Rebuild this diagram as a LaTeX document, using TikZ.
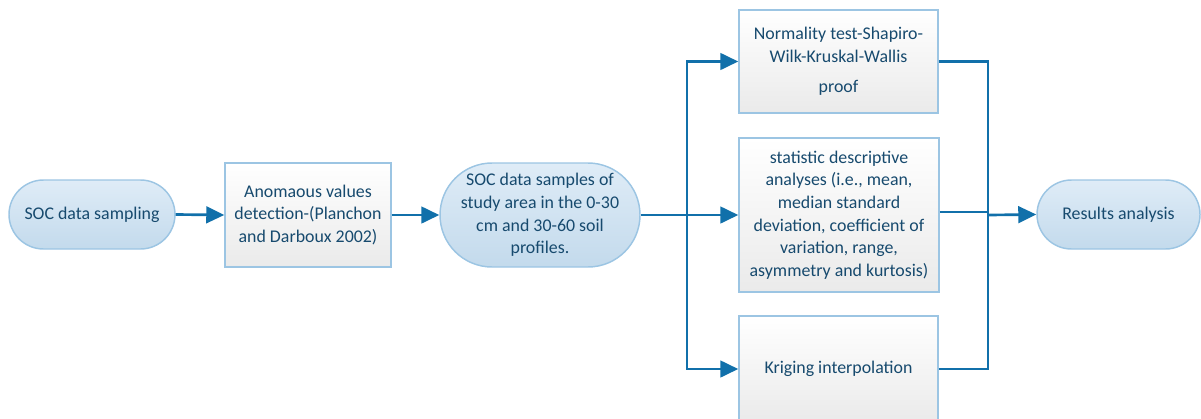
\documentclass[tikz,border=0pt]{standalone}
\usepackage{fontspec}
\setmainfont{Carlito}
\usetikzlibrary{shapes.misc,arrows.meta}

\definecolor{txtblue}{HTML}{174A6E}
\definecolor{linkblue}{HTML}{1170AA}
\definecolor{edgeblue}{HTML}{9CC5E3}
\definecolor{pilltop}{HTML}{DFECF7}
\definecolor{pillbot}{HTML}{C3DAEC}
\definecolor{boxbot}{HTML}{EAEAEA}

\tikzset{
  label text/.style={text=txtblue, align=center, inner sep=0pt,
    font=\fontsize{13.4}{17}\selectfont},
  pill/.style={label text, rounded rectangle, draw=edgeblue, line width=1.1pt,
    top color=pilltop, bottom color=pillbot},
  stepbox/.style={label text, rectangle, draw=edgeblue, line width=1.1pt,
    top color=white, bottom color=boxbot},
  link/.style={draw=linkblue, line width=2pt},
  arrowlink/.style={link, -{Triangle[length=13.5pt,width=12.5pt]}},
}

\begin{document}
\begin{tikzpicture}[x=0.75pt,y=-0.75pt]
  \useasboundingbox (0,0) rectangle (1201,418);
  \clip (0,0) rectangle (1201,418);

  % main chain
  \node[pill, minimum width=124.5pt, minimum height=51.75pt] (sampling) at (92,214.5)
    {SOC data sampling};
  \node[stepbox, minimum width=124.5pt, minimum height=78pt] (anomaly) at (308,215)
    {Anomaous values\\detection-(Planchon\\and Darboux 2002)};
  \node[pill, minimum width=150pt, minimum height=78pt] (samples) at (540,215)
    {SOC data samples of\\study area in the 0-30\\cm and 30-60 soil\\profiles.};

  % analysis branches
  \node[stepbox, minimum width=149.25pt, minimum height=77.25pt] (normality) at (838.5,61.5)
    {Normality test-Shapiro-\\Wilk-Kruskal-Wallis\\[6pt]proof};
  \node[stepbox, minimum width=150pt, minimum height=115.5pt] (descriptive) at (839,215)
    {statistic descriptive\\analyses (i.e., mean,\\median standard\\deviation, coefficient of\\variation, range,\\asymmetry and kurtosis)};
  \node[stepbox, minimum width=149.25pt, minimum height=79.5pt] (kriging) at (838.5,369)
    {Kriging interpolation};

  \node[pill, minimum width=122.25pt, minimum height=51.75pt] (results) at (1118.5,214.5)
    {Results analysis};

  % branch points
  \coordinate (split) at (687,215);
  \coordinate (merge) at (988,215);

  % connectors
  \draw[arrowlink] (sampling.east) -- (anomaly.west);
  \draw[arrowlink] (anomaly.east) -- (samples.west);
  \draw[link] (samples.east) -- (split);
  \draw[arrowlink] (split) -- (descriptive.west);
  \draw[arrowlink] (split) |- (normality.west);
  \draw[arrowlink] (split) |- (kriging.west);
  \draw[link] (normality.east) -| (merge);
  \draw[link] (kriging.east) -| (merge);
  \draw[link] ([yshift=2.25pt]descriptive.east) -- ([yshift=2.25pt]descriptive.east -| merge);
  \draw[arrowlink] (merge) -- (results.west);
\end{tikzpicture}
\end{document}
